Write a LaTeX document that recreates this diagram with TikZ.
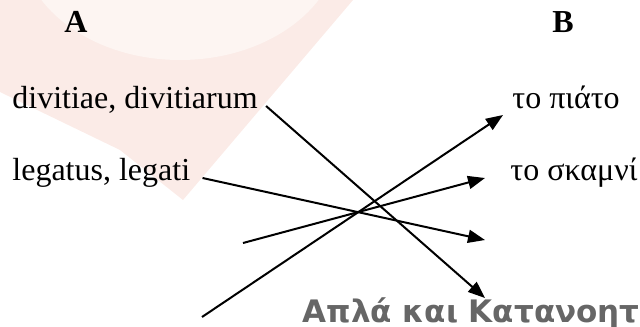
\documentclass[tikz,border=0pt]{standalone}
\usepackage{fontspec}
\setmainfont{Liberation Serif}
\newfontfamily\markfont{DejaVu Sans}
\usetikzlibrary{arrows.meta, positioning}
\definecolor{markpink}{RGB}{251,235,231}
\definecolor{markcream}{RGB}{253,245,242}
\definecolor{markgray}{RGB}{102,102,102}

\begin{document}
\begin{tikzpicture}[x=0.5pt, y=-0.5pt,
        word/.style={inner sep=0pt, anchor=base west, font=\fontsize{16}{19}\selectfont},
        head/.style={inner sep=0pt, anchor=base, font=\fontsize{16}{19}\selectfont\bfseries},
        match/.style={line width=1pt, -{Triangle[length=8.5pt, width=6.5pt]}}]
    \useasboundingbox (0,0) rectangle (640,326);

    % Faded logo behind the left column
    \begin{scope}
        \clip (0,0) rectangle (640,326);
        \fill[markpink] (0,0) -- (353,0) -- (183,200) -- (120,150) -- (0,92) -- cycle;
        \fill[markcream] (180,-60) ellipse [x radius=80pt, y radius=60pt];
    \end{scope}
    \node[inner sep=0pt, anchor=base east, text=markgray, font=\markfont\bfseries\fontsize{15.5}{18}\selectfont] (mark) at (640,322) {Απλά και Κατανοητ};

    % Column heads
    \node[head] (colA) at (76,33) {A};
    \node[head] (colB) at (563,33) {B};

    % Words to match
    \node[word] (div) at (12,108) {divitiae, divitiarum};
    \node[word] (leg) at (12,180) {legatus, legati};
    \node[word] (piato) at (512,108) {το πιάτο};
    \node[word] (skamni) at (510,180) {το σκαμνί};

    % Line ends
    \coordinate (divOut) at ([xshift=4pt, yshift=1pt]div.base east);
    \coordinate (legOut) at ([xshift=6pt, yshift=1pt]leg.base east);
    \coordinate (piatoIn) at ([xshift=-4.5pt, yshift=-3.5pt]piato.base west);
    \coordinate (skamniIn) at ([xshift=-12.5pt, yshift=1pt]skamni.base west);
    \coordinate (blank3) at (485,240);
    \coordinate (blank4) at (485,298);
    \coordinate (free3) at (243,243);
    \coordinate (free4) at (202,317);

    % Matching arrows
    \draw[match] (divOut) -- (blank4);
    \draw[match] (legOut) -- (blank3);
    \draw[match] (free3) -- (skamniIn);
    \draw[match] (free4) -- (piatoIn);
\end{tikzpicture}
\end{document}
